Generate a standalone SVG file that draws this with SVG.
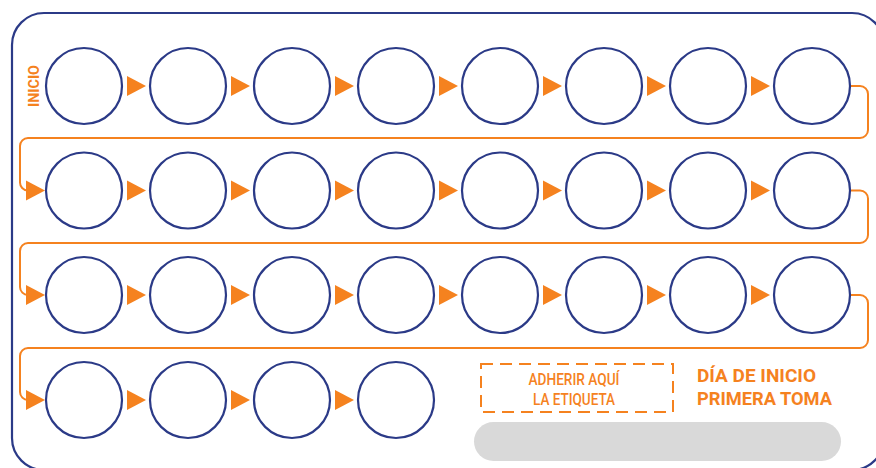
<svg xmlns="http://www.w3.org/2000/svg" width="876" height="468" viewBox="0 0 876 468">
<style>
.c{fill:#fff;stroke:#2b3a87;stroke-width:2.2}
.a{fill:#f5821f}
.l{fill:none;stroke:#f5821f;stroke-width:2}
.t{font-family:Roboto,"Liberation Sans",sans-serif;fill:#f5821f}
</style>
<defs>
<polygon id="tri" points="0,-10 19,0 0,10" class="a"/>
<circle id="cir" r="38" class="c"/>
</defs>
<rect x="12" y="13" width="872" height="457" rx="32" fill="#fff" stroke="#2b3a87" stroke-width="2.2"/>
<g id="connectors">
<path class="l" d="M851 86 H860 A8 8 0 0 1 868 94 V130 A8 8 0 0 1 860 138 H28 A8 8 0 0 0 20 146 V182 A8 8 0 0 0 28 190.5"/>
<path class="l" d="M851 190.5 H860 A8 8 0 0 1 868 198.5 V235 A8 8 0 0 1 860 243 H28 A8 8 0 0 0 20 251 V287 A8 8 0 0 0 28 295"/>
<path class="l" d="M851 295 H860 A8 8 0 0 1 868 303 V340 A8 8 0 0 1 860 348 H28 A8 8 0 0 0 20 356 V392 A8 8 0 0 0 28 400"/>
<use href="#tri" x="127" y="86"/><use href="#tri" x="231" y="86"/><use href="#tri" x="335" y="86"/><use href="#tri" x="439" y="86"/><use href="#tri" x="543" y="86"/><use href="#tri" x="647" y="86"/><use href="#tri" x="751" y="86"/>
<use href="#tri" x="26" y="190.5"/><use href="#tri" x="127" y="190.5"/><use href="#tri" x="231" y="190.5"/><use href="#tri" x="335" y="190.5"/><use href="#tri" x="439" y="190.5"/><use href="#tri" x="543" y="190.5"/><use href="#tri" x="647" y="190.5"/><use href="#tri" x="751" y="190.5"/>
<use href="#tri" x="26" y="295"/><use href="#tri" x="127" y="295"/><use href="#tri" x="231" y="295"/><use href="#tri" x="335" y="295"/><use href="#tri" x="439" y="295"/><use href="#tri" x="543" y="295"/><use href="#tri" x="647" y="295"/><use href="#tri" x="751" y="295"/>
<use href="#tri" x="26" y="400"/><use href="#tri" x="127" y="400"/><use href="#tri" x="231" y="400"/><use href="#tri" x="335" y="400"/>
</g>
<g id="row1">
<g id="d1"><use href="#cir" x="84" y="86"/></g><g id="d2"><use href="#cir" x="188" y="86"/></g><g id="d3"><use href="#cir" x="292" y="86"/></g><g id="d4"><use href="#cir" x="396" y="86"/></g><g id="d5"><use href="#cir" x="500" y="86"/></g><g id="d6"><use href="#cir" x="604" y="86"/></g><g id="d7"><use href="#cir" x="708" y="86"/></g><g id="d8"><use href="#cir" x="812" y="86"/></g>
</g>
<g id="row2">
<g id="d9"><use href="#cir" x="84" y="190.5"/></g><g id="d10"><use href="#cir" x="188" y="190.5"/></g><g id="d11"><use href="#cir" x="292" y="190.5"/></g><g id="d12"><use href="#cir" x="396" y="190.5"/></g><g id="d13"><use href="#cir" x="500" y="190.5"/></g><g id="d14"><use href="#cir" x="604" y="190.5"/></g><g id="d15"><use href="#cir" x="708" y="190.5"/></g><g id="d16"><use href="#cir" x="812" y="190.5"/></g>
</g>
<g id="row3">
<g id="d17"><use href="#cir" x="84" y="295"/></g><g id="d18"><use href="#cir" x="188" y="295"/></g><g id="d19"><use href="#cir" x="292" y="295"/></g><g id="d20"><use href="#cir" x="396" y="295"/></g><g id="d21"><use href="#cir" x="500" y="295"/></g><g id="d22"><use href="#cir" x="604" y="295"/></g><g id="d23"><use href="#cir" x="708" y="295"/></g><g id="d24"><use href="#cir" x="812" y="295"/></g>
</g>
<g id="row4">
<g id="d25"><use href="#cir" x="84" y="400"/></g><g id="d26"><use href="#cir" x="188" y="400"/></g><g id="d27"><use href="#cir" x="292" y="400"/></g><g id="d28"><use href="#cir" x="396" y="400"/></g>
</g>
<g id="inicio">
<text class="t" transform="translate(38.5,86) rotate(-90)" text-anchor="middle" font-size="15" font-weight="bold" textLength="42" lengthAdjust="spacingAndGlyphs">INICIO</text>
</g>
<g id="label">
<rect x="481" y="364" width="192" height="48" fill="none" stroke="#f5821f" stroke-width="2" stroke-dasharray="12 7"/>
<text class="t" x="574" y="385" text-anchor="middle" font-size="16.5" font-weight="500" textLength="91" lengthAdjust="spacingAndGlyphs">ADHERIR AQUÍ</text>
<text class="t" x="574" y="405" text-anchor="middle" font-size="16.5" font-weight="500" textLength="82" lengthAdjust="spacingAndGlyphs">LA ETIQUETA</text>
</g>
<g id="dia">
<text class="t" x="697" y="382" font-size="18.5" font-weight="bold" textLength="119" lengthAdjust="spacingAndGlyphs">DÍA DE INICIO</text>
<text class="t" x="697" y="405" font-size="18.5" font-weight="bold" textLength="135" lengthAdjust="spacingAndGlyphs">PRIMERA TOMA</text>
</g>
<g id="field">
<rect x="474" y="422" width="367" height="39" rx="19.5" fill="#d9d9d9"/>
</g>
</svg>
